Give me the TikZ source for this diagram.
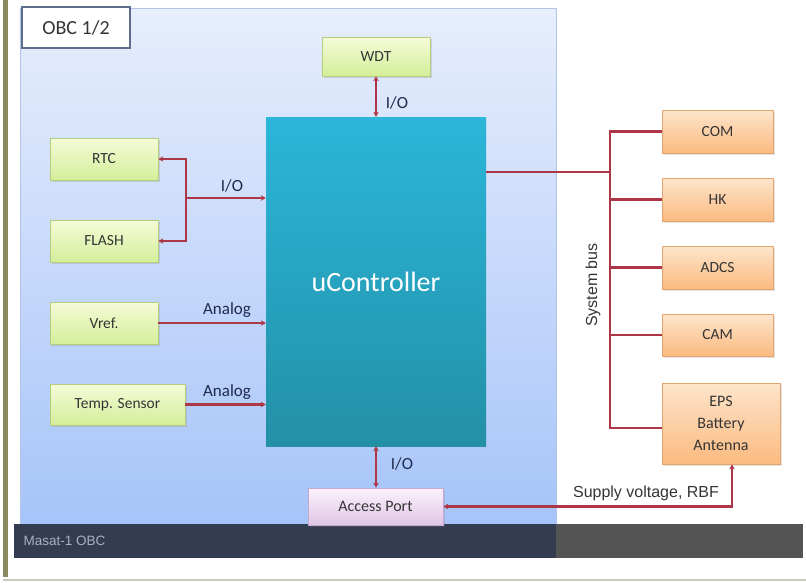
\documentclass[tikz,border=0pt]{standalone}
\usepackage{fontspec}
\setmainfont{Carlito}
\newfontfamily\arialf{Liberation Sans}
\usetikzlibrary{shadows,arrows.meta}
\definecolor{gtop}{HTML}{F5FBD8}
\definecolor{gbot}{HTML}{D4EE9A}
\definecolor{gbord}{HTML}{B4CE7C}
\definecolor{otop}{HTML}{FDE5CB}
\definecolor{obot}{HTML}{FBBA80}
\definecolor{obord}{HTML}{E6A46E}
\definecolor{ctop}{HTML}{2BB6DA}
\definecolor{cbot}{HTML}{2390A6}
\definecolor{ptop}{HTML}{FBF2FB}
\definecolor{pbot}{HTML}{E0C6E8}
\definecolor{pbord}{HTML}{C6A8D0}
\definecolor{wire}{HTML}{AE3747}
\definecolor{navy}{HTML}{1E2A4E}
\definecolor{txt}{HTML}{353535}
\definecolor{paneltop}{HTML}{E7EEFC}
\definecolor{panelbot}{HTML}{A6C4F9}
\definecolor{olive}{HTML}{8B8A60}
\tikzset{
  box/.style={draw, line width=0.7pt, font=\fontsize{15.5}{18}\selectfont, text=txt,
    drop shadow={opacity=0.22, shadow xshift=1.5pt, shadow yshift=-1.8pt}},
  gbox/.style={box, draw=gbord, top color=gtop, bottom color=gbot},
  obox/.style={box, draw=obord, top color=otop, bottom color=obot},
  conn/.style={draw=wire, line width=2.3pt},
  tip/.style={-{Stealth[length=5pt,width=5.5pt]}},
  dtip/.style={{Stealth[length=5pt,width=5.5pt]}-{Stealth[length=5pt,width=5.5pt]}},
  lbl/.style={text=navy, font=\fontsize{17}{20}\selectfont}
}
\begin{document}
\begin{tikzpicture}[x=1pt,y=-1pt]
\useasboundingbox (0,0) rectangle (806,582);
\fill[white] (0,0) rectangle (806,582);
% frame decorations
\fill[olive] (3,0) rectangle (8,577);
\draw[color={rgb,255:red,200;green,200;blue,190}, line width=2pt] (3,580) -- (806,580);
% main panel
\shade[top color=paneltop, bottom color=panelbot] (20,8) rectangle (556,524);
\draw[color={rgb,255:red,180;green,196;blue,230}, line width=0.6pt] (20,8) rectangle (556,524);
% bottom bar
\fill[color={rgb,255:red,52;green,60;blue,82}] (14,524) rectangle (556,558);
\fill[color={rgb,255:red,84;green,84;blue,84}] (556,524) rectangle (803,558);
\node[anchor=west, text={rgb,255:red,170;green,176;blue,190}, font=\arialf\fontsize{13.5}{15}\selectfont] (masat) at (20,541) {Masat-1 OBC};
% OBC label
\node[draw={rgb,255:red,92;green,110;blue,140}, line width=1.2pt, fill=white, minimum width=108pt, minimum height=41pt, text=txt, font=\fontsize{20}{24}\selectfont] (obc) at (76,27.5) {OBC 1/2};
% uController
\node[top color=ctop, bottom color=cbot, minimum width=220pt, minimum height=329pt, text=white, font=\fontsize{28}{32}\selectfont] (uc) at (376,281.5) {uController};
% green nodes
\node[gbox, minimum width=108pt, minimum height=39pt] (wdt) at (376,56.5) {WDT};
\node[gbox, minimum width=108pt, minimum height=42pt] (rtc) at (104,159) {RTC};
\node[gbox, minimum width=108pt, minimum height=42pt] (flash) at (104,241) {FLASH};
\node[gbox, minimum width=108pt, minimum height=42pt] (vref) at (104,323) {Vref.};
\node[gbox, minimum width=135pt, minimum height=41pt] (temp) at (117.5,404.5) {Temp. Sensor};
% access port
\node[box, draw=pbord, top color=ptop, bottom color=pbot, minimum width=135pt, minimum height=37pt, font=\fontsize{16}{19}\selectfont] (ap) at (375.5,506.5) {Access Port};
% orange nodes
\node[obox, minimum width=111pt, minimum height=43pt] (com) at (717.5,131.5) {COM};
\node[obox, minimum width=111pt, minimum height=43pt] (hk) at (717.5,199.5) {HK};
\node[obox, minimum width=111pt, minimum height=43pt] (adcs) at (717.5,267.5) {ADCS};
\node[obox, minimum width=111pt, minimum height=42pt] (cam) at (717.5,335) {CAM};
\node[obox, minimum width=118pt, minimum height=81pt, align=center, font=\fontsize{16}{22}\selectfont] (eps) at (721,423.5) {EPS\\Battery\\Antenna};
% connectors
\draw[conn, dtip] (wdt.south) -- (uc.north);
\node[lbl] (io1) at (397,103) {I/O};
\coordinate (j1) at (186,198);
\draw[conn, tip] (j1) -- (j1 -| uc.west);
\draw[conn, tip] (j1) |- (rtc.east);
\draw[conn, tip] (j1) |- (flash.east);
\node[lbl] (io2) at (232,186) {I/O};
\draw[conn, tip] (vref.east) -- (vref.east -| uc.west);
\node[lbl] (an1) at (227,310) {Analog};
\draw[conn, tip] (temp.east) -- (temp.east -| uc.west);
\node[lbl] (an2) at (227,392) {Analog};
\draw[conn, dtip] (uc.south) -- (uc.south |- ap.north);
\node[lbl] (io3) at (402,464) {I/O};
% system bus
\coordinate (bus) at (610,172);
\draw[conn] (bus -| uc.east) -- (bus);
\draw[conn] (bus) |- (com.west);
\draw[conn] (bus) |- (hk.west);
\draw[conn] (bus) |- (adcs.west);
\draw[conn] (bus) |- (cam.west);
\draw[conn] (bus) |- ([yshift=-4.5pt]eps.west);
\node[rotate=90, text=txt, font=\arialf\fontsize{16}{19}\selectfont] (sb) at (593,285) {System bus};
% supply
\coordinate (sv) at ([xshift=11pt]eps.south);
\draw[conn, dtip] (ap.east) -| (sv);
\node[text=txt, font=\arialf\fontsize{16}{19}\selectfont] (svl) at (646,493) {Supply voltage, RBF};
\end{tikzpicture}
\end{document}
